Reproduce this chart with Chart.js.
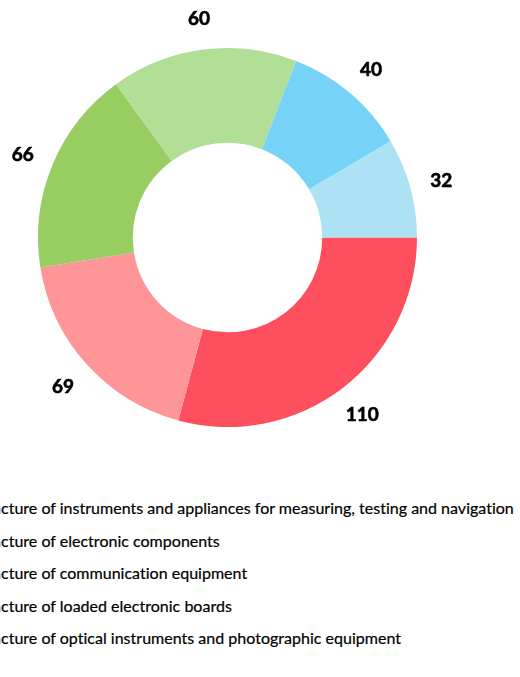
<!DOCTYPE html>
<html>
<head>
<meta charset="utf-8">
<script src="https://cdn.jsdelivr.net/npm/chart.js@4"></script>
<style>
  html, body { margin: 0; padding: 0; background: #fff; overflow: hidden; }
  #wrap { position: relative; width: 520px; height: 677px; overflow: hidden; }
  #chart-box { position: absolute; left: 0; top: 0; width: 520px; height: 470px; }
  #legend { position: absolute; top: 492px; left: 0; font-family: Lato, "Open Sans", sans-serif; font-size: 16.05px; color: #000; white-space: nowrap; font-variant-ligatures: none; -webkit-text-stroke: 0.2px #000; }
  #legend div { height: 32.5px; line-height: 32.5px; }
  #legend span.box { display: inline-block; width: 14px; height: 14px; margin-right: 10px; vertical-align: middle; }
</style>
</head>
<body>
<div id="wrap">
  <div id="chart-box"><canvas id="donut"></canvas></div>
  <div id="legend"></div>
</div>
<script>
// 데이터 (3시 방향부터 시계방향)
const categories = [
  "Manufacture of instruments and appliances for measuring, testing and navigation",
  "Manufacture of electronic components",
  "Manufacture of communication equipment",
  "Manufacture of loaded electronic boards",
  "Manufacture of optical instruments and photographic equipment",
  "Manufacture of computers and peripheral equipment"
];
const values = [110, 69, 66, 60, 40, 32];
const colors = ["#fe4f5f", "#fd9599", "#97cd61", "#b2df96", "#76d2f6", "#ade2f4"];
const legendCount = 5; // 그림에는 5개 항목만 보임

// 조각 바깥쪽 값 라벨
const outerLabels = {
  id: "outerLabels",
  afterDatasetsDraw(chart) {
    const ctx = chart.ctx;
    const meta = chart.getDatasetMeta(0);
    ctx.save();
    ctx.font = 'bold 19px Lato, "Open Sans", sans-serif';
    ctx.fillStyle = "#000";
    ctx.strokeStyle = "#000";
    ctx.lineWidth = 0.6;
    ctx.textAlign = "center";
    ctx.textBaseline = "middle";
    meta.data.forEach((arc, i) => {
      const mid = (arc.startAngle + arc.endAngle) / 2;
      const r = arc.outerRadius + 32;
      const x = arc.x + Math.cos(mid) * r;
      const y = arc.y + Math.sin(mid) * r + 1.5;
      ctx.fillText(String(values[i]), x, y);
      ctx.strokeText(String(values[i]), x, y);
    });
    ctx.restore();
  }
};

new Chart(document.getElementById("donut"), {
  type: "doughnut",
  data: {
    labels: categories,
    datasets: [{
      data: values,
      backgroundColor: colors,
      borderWidth: 0,
      hoverOffset: 0
    }]
  },
  options: {
    responsive: true,
    maintainAspectRatio: false,
    animation: false,
    rotation: 90,
    cutout: "50%",
    layout: { padding: { top: 48, bottom: 43, left: 38, right: 103 } },
    plugins: {
      legend: { display: false },
      tooltip: { enabled: false }
    }
  },
  plugins: [outerLabels]
});

// HTML 범례 (왼쪽이 잘려 보이도록 "Manufa" 만큼 밀어냄)
const legendEl = document.getElementById("legend");
const measure = document.createElement("canvas").getContext("2d");
measure.font = '16.05px Lato, "Open Sans", sans-serif';
const shift = measure.measureText("Manufa").width + 24;
legendEl.style.left = (-shift + 1) + "px";
categories.slice(0, legendCount).forEach((name, i) => {
  const row = document.createElement("div");
  const box = document.createElement("span");
  box.className = "box";
  box.style.background = colors[i];
  row.appendChild(box);
  row.appendChild(document.createTextNode(name));
  legendEl.appendChild(row);
});
</script>
</body>
</html>
